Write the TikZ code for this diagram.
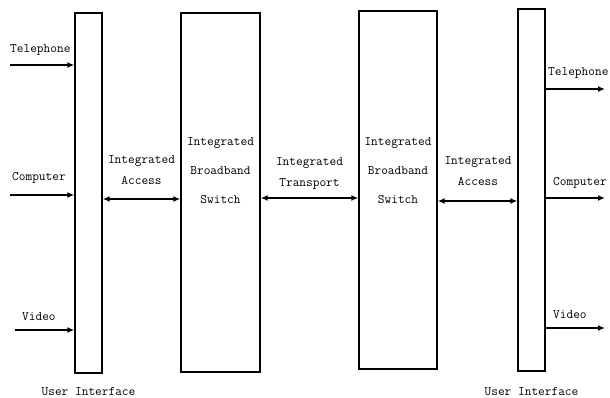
\documentclass[tikz,border=0pt]{standalone}
\usepackage{tikz}
\usetikzlibrary{arrows.meta}
\begin{document}
\begin{tikzpicture}[x=1pt,y=-1pt,
  box/.style={draw,line width=1.4pt,inner sep=0pt},
  lbl/.style={inner sep=0pt,align=center,font=\ttfamily\fontsize{13}{21}\selectfont},
  sig/.style={line width=1.5pt,-{Latex[length=7pt,width=6pt]}},
  link/.style={line width=1.5pt,{Latex[length=7pt,width=6pt]}-{Latex[length=7pt,width=6pt]}}]
\useasboundingbox (0,0) rectangle (610,398);
\node[box,minimum width=27pt,minimum height=360pt] (ui1) at (88.5,193) {};
\node[box,minimum width=79pt,minimum height=359pt] (sw1) at (220.5,192.5) {};
\node[box,minimum width=78pt,minimum height=358pt] (sw2) at (398,190) {};
\node[box,minimum width=27pt,minimum height=362pt] (ui2) at (531.5,190) {};
\node[lbl,font=\ttfamily\fontsize{13}{29}\selectfont] (sw1txt) at (220.5,171) {Integrated\\Broadband\\Switch};
\node[lbl,font=\ttfamily\fontsize{13}{29}\selectfont] (sw2txt) at (398,171) {Integrated\\Broadband\\Switch};
\node[lbl] (ui1txt) at (88.5,392) {User Interface};
\node[lbl] (ui2txt) at (531.5,392) {User Interface};
\coordinate (telin) at (10,65);
\coordinate (compin) at (10,195);
\coordinate (vidin) at (15,330);
\draw[sig] (telin) -- (telin -| ui1.west);
\draw[sig] (compin) -- (compin -| ui1.west);
\draw[sig] (vidin) -- (vidin -| ui1.west);
\node[lbl,anchor=west] (telinlbl) at (10,50) {Telephone};
\node[lbl,anchor=west] (compinlbl) at (12,178) {Computer};
\node[lbl,anchor=west] (vidinlbl) at (22,317) {Video};
\coordinate (telout) at (605,89);
\coordinate (compout) at (605,198);
\coordinate (vidout) at (605,328);
\draw[sig] (telout -| ui2.east) -- (telout);
\draw[sig] (compout -| ui2.east) -- (compout);
\draw[sig] (vidout -| ui2.east) -- (vidout);
\node[lbl,anchor=west] (teloutlbl) at (548,73) {Telephone};
\node[lbl,anchor=west] (compoutlbl) at (553,183) {Computer};
\node[lbl,anchor=west] (vidoutlbl) at (553,315) {Video};
\coordinate (acc1) at (0,199);
\coordinate (trans) at (0,198);
\coordinate (acc2) at (0,201);
\draw[link] (acc1 -| ui1.east) -- (acc1 -| sw1.west);
\draw[link] (trans -| sw1.east) -- (trans -| sw2.west);
\draw[link] (acc2 -| sw2.east) -- (acc2 -| ui2.west);
\node[lbl] (acc1lbl) at (141.5,170) {Integrated\\Access};
\node[lbl] (translbl) at (309.5,173.5) {Integrated\\Transport};
\node[lbl] (acc2lbl) at (478,171.5) {Integrated\\Access};
\end{tikzpicture}
\end{document}
